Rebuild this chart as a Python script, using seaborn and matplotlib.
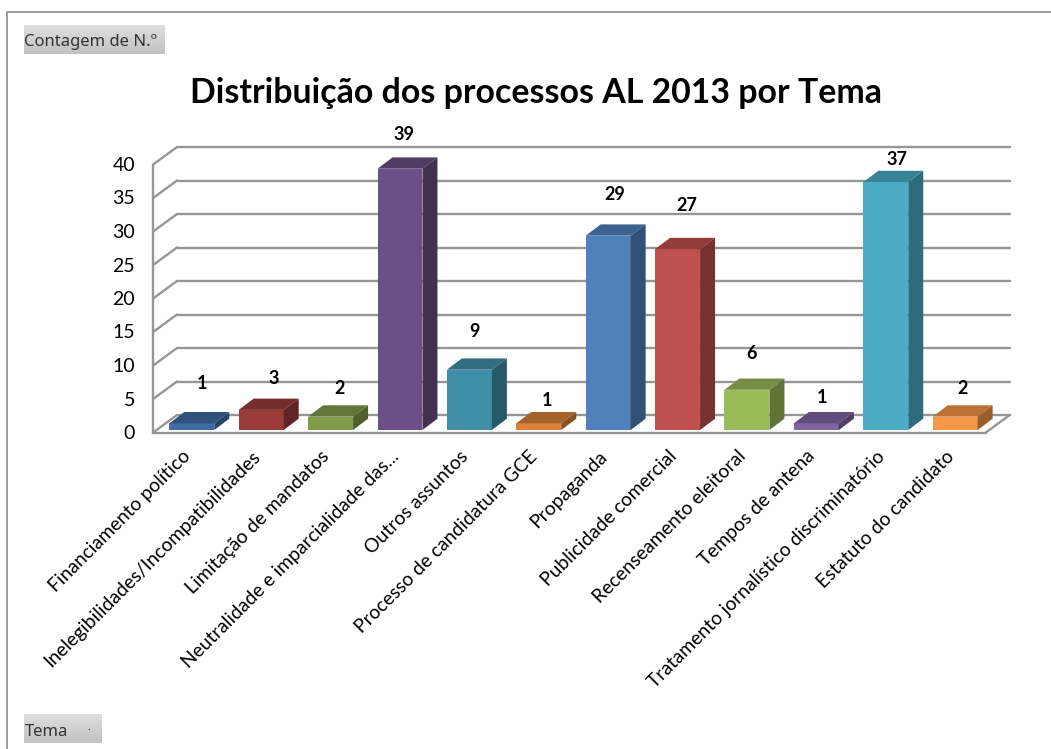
#!/usr/bin/env python3
# Distribuicao dos processos AL 2013 por Tema - pseudo 3D column chart
import numpy as np
import pandas as pd
import matplotlib
matplotlib.use('Agg')
import matplotlib.pyplot as plt
from matplotlib.colors import to_rgb
from matplotlib.lines import Line2D
from matplotlib.patches import Polygon
from matplotlib.transforms import Affine2D
import seaborn as sns

temas = ['Financiamento político', 'Inelegibilidades/Incompatibilidades',
         'Limitação de mandatos', 'Neutralidade e imparcialidade das...',
         'Outros assuntos', 'Processo de candidatura GCE', 'Propaganda',
         'Publicidade comercial', 'Recenseamento eleitoral', 'Tempos de antena',
         'Tratamento jornalístico discriminatório', 'Estatuto do candidato']
contagem = [1, 3, 2, 39, 9, 1, 29, 27, 6, 1, 37, 2]
cores = ['#3F6CA3', '#9A3B3A', '#7F9B48', '#6B4F86', '#3F8FA8', '#DB8236',
         '#4F81BD', '#C0504D', '#9BBB59', '#8064A2', '#4BACC6', '#F79646']
yticks = [0, 5, 10, 15, 20, 25, 30, 35, 40]

# where each value label sits relative to the top of its bar, in pixels
label_dx = [10, 13, 9, 4, 5, 8, 7, 9, 5, 6, 11, 7]
label_dy = [40, 31, 28, 34, 38, 23, 41, 44, 36, 26, 23, 28]

W, H = 1051, 749
GRID = '#969696'

sns.set_theme(style='white')
plt.rcParams['font.family'] = ['Lato', 'DejaVu Sans']

df = pd.DataFrame({'Tema': temas, 'Contagem': contagem})

fig = plt.figure(figsize=(W / 100, H / 100), dpi=100)
ax = fig.add_axes([153 / W, (H - 430) / H, 832.7 / W, 268 / H])
ax.patch.set_alpha(0)

sns.barplot(data=df, x='Tema', y='Contagem', hue='Tema', palette=cores, order=temas,
            hue_order=temas, width=0.648, saturation=1, legend=False, zorder=3,
            linewidth=0, edgecolor='none', ax=ax)

ax.set_xlim(-0.559, 11.44)
ax.set_ylim(0, 40)
ax.set_xlabel('')
ax.set_ylabel('')
sns.despine(ax=ax, left=True, bottom=True, top=True, right=True)

# chart walls: front edge and back wall are the same axis, shifted in pixels
front = ax.transData + Affine2D().translate(0, -2.6)
back = ax.transData + Affine2D().translate(24, 15)
x0, x1 = ax.get_xlim()
for v in yticks:
    ax.plot([x0, x1], [v, v], color=GRID, lw=1.7, transform=back, clip_on=False, zorder=1)
    p0 = front.transform((x0, v))
    p1 = back.transform((x0, v))
    fig.add_artist(Line2D([p0[0], p1[0]], [p0[1], p1[1]], color=GRID, lw=1.7,
                          transform=None, zorder=0))
ax.plot([x0, x0], [0, 40], color=GRID, lw=1.7, transform=front, clip_on=False, zorder=1)
ax.plot([x0, x1], [0, 0], color=GRID, lw=1.7, transform=front, clip_on=False, zorder=1)
p0 = front.transform((x1, 0))
p1 = back.transform((x1, 0))
fig.add_artist(Line2D([p0[0], p1[0]], [p0[1], p1[1]], color=GRID, lw=1.7,
                      transform=None, zorder=0))

# top and side faces of each column, built from the bars seaborn drew
depth_x, depth_y = 15, 11.3
for bar, cor in zip(ax.patches, cores):
    (l, b), (r, t) = ax.transData.transform(
        [(bar.get_x(), 0), (bar.get_x() + bar.get_width(), bar.get_height())])
    rgb = np.array(to_rgb(cor))
    topo = Polygon([(l, t), (r, t), (r + depth_x, t + depth_y), (l + depth_x, t + depth_y)],
                   closed=True, transform=None, fc=rgb * 0.76, ec='none', zorder=3, clip_on=False)
    lado = Polygon([(r, b), (r + depth_x, b + depth_y), (r + depth_x, t + depth_y), (r, t)],
                   closed=True, transform=None, fc=rgb * 0.62, ec='none', zorder=3, clip_on=False)
    ax.add_artist(topo)
    ax.add_artist(lado)

for i, v in enumerate(contagem):
    ax.annotate(str(v), xy=(i, v), xytext=(label_dx[i], label_dy[i]), textcoords='offset pixels',
                ha='center', va='center', fontsize=13, fontweight='bold', color='black',
                annotation_clip=False, zorder=5)

ax.set_yticks(yticks)
ax.set_yticklabels([str(v) for v in yticks], fontsize=14, color='black')
ax.tick_params(axis='y', length=0, pad=13)
ax.set_xticks(range(len(temas)))
ax.set_xticklabels(temas, rotation=45, ha='right', rotation_mode='anchor', fontsize=13.9, color='black')
ax.tick_params(axis='x', length=0, pad=14)
# nudge the slanted labels a little left, the y labels a little down
for lab in ax.get_xticklabels():
    lab.set_transform(lab.get_transform() + Affine2D().translate(-10, 2))
for lab in ax.get_yticklabels():
    lab.set_transform(lab.get_transform() + Affine2D().translate(0, -2))

fig.text(536 / W, 1 - 93 / H, 'Distribuição dos processos AL 2013 por Tema', ha='center', va='center',
         fontsize=24.4, fontweight='bold', color='black')

# outer frame of the pivot chart
fig.add_artist(Line2D([7, 7, W], [0, H - 12, H - 12], color='#8C8C8C', lw=1.2, transform=None))

# grey field buttons
def botao(texto, x, y, w, h, seta=False):
    bax = fig.add_axes([x / W, 1 - (y + h) / H, w / W, h / H])
    bax.imshow(np.linspace(0.87, 0.76, 20).reshape(-1, 1), cmap='gray', vmin=0, vmax=1, aspect='auto',
               extent=(0, w, 0, h))
    bax.text(0.5, h / 2 - 3, texto, ha='left', va='center', fontsize=12, color='#333333',
             family=['Noto Sans', 'DejaVu Sans'])
    if seta:
        bax.text(w - 13, h / 2 + 2, '.', ha='center', va='center', fontsize=8, color='#333333')
    bax.set_axis_off()

botao('Contagem de N.º', 24, 25, 141, 29)
botao('Tema', 24, 714, 78, 29, seta=True)

fig.savefig('out.png', dpi=100)
